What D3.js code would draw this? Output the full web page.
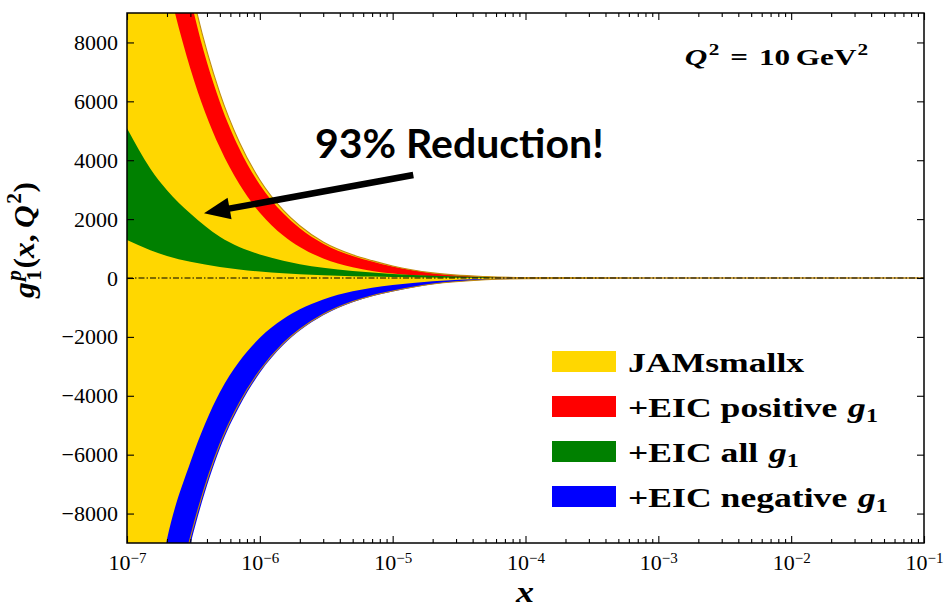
<!DOCTYPE html>
<html><head><meta charset="utf-8">
<script src="https://cdn.jsdelivr.net/npm/d3@7"></script>
<style>body{margin:0;background:#fff} text{white-space:pre}</style>
</head><body><svg id="c" width="945" height="610"></svg>
<script>
// ---- data ----
const xGrid    = [1e-7, 1.5e-7, 2e-7, 3e-7, 5e-7, 7e-7, 1e-6, 1.5e-6, 2e-6, 3e-6, 5e-6, 7e-6, 1e-5, 2e-5, 5e-5, 1e-4, 1e-3, 1e-2, 1e-1];
const jamUpper = [27200, 18800, 14500, 10000, 6280, 4620, 3330, 2305, 1775, 1225, 790, 590, 410, 175, 48, 16, 1.6, 0.4, 0];
const jamLower = [-22130, -15730, -12300, -8820, -5645, -4250, -3140, -2220, -1740, -1233, -800, -600, -444, -205, -58, -21, -2, -0.5, 0];
const posUpper = [25900, 17900, 13800, 9530, 5980, 4400, 3170, 2195, 1690, 1166, 750, 560, 390, 165, 45, 15, 1.5, 0.3, 0];
const posLower = [17800, 12900, 10140, 7110, 4430, 3190, 2220, 1445, 1054, 664, 362, 239, 152, 60, 16, 6, 0.5, 0.1, 0];
const allUpper = [5085, 3710, 2980, 2190, 1400, 1050, 800, 590, 470, 350, 240, 185, 140, 80, 30, 14, 2, 0.4, 0];
const allLower = [1291, 945, 750, 550, 373, 287, 217, 159, 127, 93, 63, 48, 37, 20, 8, 4, 0.4, 0.1, 0];
const negUpper = [-17450, -11960, -8870, -6260, -3880, -2835, -2030, -1393, -1065, -729, -452, -330, -237, -110, -35, -13, -1, -0.2, 0];
const negLower = [-22700, -16130, -12620, -9050, -5790, -4360, -3220, -2276, -1785, -1265, -820, -616, -455, -210, -60, -22, -2, -0.5, 0];

const xTicks = [1e-7, 1e-6, 1e-5, 1e-4, 1e-3, 1e-2, 1e-1];
const xTickExp = ["\u22127", "\u22126", "\u22125", "\u22124", "\u22123", "\u22122", "\u22121"];
const yTicks = [-8000, -6000, -4000, -2000, 0, 2000, 4000, 6000, 8000];
const legendNames = ["JAMsmallx", "+EIC positive", "+EIC all", "+EIC negative"];
const legendMath  = [false, true, true, true];
const bandColors  = ["#FFD700", "#FF0000", "#008000", "#0000FF"];
const annotText = "93% Reduction!";
const annotTextAt = [2.6e-6, 4076];
const arrowTail = [1.43e-5, 3500];
const arrowTip  = [3.8e-7, 2200];

// ---- layout ----
const svg = d3.select("#c");
const L = 127, R = 924, T = 13, B = 543;
const x = d3.scaleLog().domain([1e-7, 1e-1]).range([L, R]);
const y = d3.scaleLinear().domain([-9000, 9000]).range([B, T]);
const serif = "Liberation Serif, DejaVu Serif, serif";

svg.append("defs").append("clipPath").attr("id", "clip")
  .append("rect").attr("x", L).attr("y", T).attr("width", R - L).attr("height", B - T);

const plot = svg.append("g").attr("clip-path", "url(#clip)");

function band(lo, hi) {
  return xGrid.map((xv, i) => ({x: xv, lo: lo[i], hi: hi[i]}));
}
const area = d3.area().x(d => x(d.x)).y0(d => y(d.lo)).y1(d => y(d.hi)).curve(d3.curveMonotoneX);
const bands = [band(jamLower, jamUpper), band(posLower, posUpper), band(allLower, allUpper), band(negLower, negUpper)];
bands.forEach((b, i) => plot.append("path").datum(b).attr("d", area).attr("fill", bandColors[i]));

const edge = d3.line().x(d => x(d.x)).y(d => y(d.v)).curve(d3.curveMonotoneX);
[jamUpper, jamLower].forEach(arr => {
  plot.append("path").datum(xGrid.map((xv, i) => ({x: xv, v: arr[i]})))
    .attr("d", edge).attr("fill", "none").attr("stroke", "#c08a10").attr("stroke-width", 1.1);
});

// zero line
plot.append("line").attr("x1", L).attr("x2", R).attr("y1", y(0)).attr("y2", y(0))
  .attr("stroke", "#000").attr("stroke-width", 1).attr("stroke-dasharray", "6,2,1.5,2");

// ---- axes ----
const minor = [];
for (let e = -7; e < -1; e++) for (let k = 2; k <= 9; k++) minor.push(k * Math.pow(10, e));

function styleAxis(g) {
  g.select(".domain").remove();
  g.selectAll("line").attr("stroke", "#000").attr("stroke-width", 1.1);
}
const xb = svg.append("g").attr("transform", `translate(0,${B})`)
  .call(d3.axisBottom(x).tickValues(xTicks).tickSize(-7).tickPadding(11).tickFormat(() => ""));
styleAxis(xb);
xb.selectAll(".tick text").each(function(d, i) {
  const t = d3.select(this).attr("font-family", serif).attr("font-size", 22).attr("fill", "#000");
  t.append("tspan").text("10");
  t.append("tspan").attr("dy", "-0.45em").attr("font-size", 15).text(xTickExp[i]);
});
svg.append("g").attr("transform", `translate(0,${B})`)
  .call(d3.axisBottom(x).tickValues(minor).tickSize(-4).tickFormat(() => "")).call(styleAxis);
svg.append("g").attr("transform", `translate(0,${T})`)
  .call(d3.axisTop(x).tickValues(xTicks).tickSize(-7).tickFormat(() => "")).call(styleAxis);
svg.append("g").attr("transform", `translate(0,${T})`)
  .call(d3.axisTop(x).tickValues(minor).tickSize(-4).tickFormat(() => "")).call(styleAxis);

const yl = svg.append("g").attr("transform", `translate(${L},0)`)
  .call(d3.axisLeft(y).tickValues(yTicks).tickSize(-7).tickPadding(9).tickFormat(d3.format("d")));
styleAxis(yl);
yl.selectAll(".tick text").attr("font-family", serif).attr("font-size", 22).attr("fill", "#000");
svg.append("g").attr("transform", `translate(${R},0)`)
  .call(d3.axisRight(y).tickValues(yTicks).tickSize(-7).tickFormat(() => "")).call(styleAxis);

// frame
svg.append("rect").attr("x", L).attr("y", T).attr("width", R - L).attr("height", B - T)
  .attr("fill", "none").attr("stroke", "#000").attr("stroke-width", 1.5);

// ---- math text helper ----
function mathText(parent, pieces, fs, anchor, sx) {
  const outer = parent.append("g").attr("transform", `scale(${sx || 1},1)`);
  const g = outer.append("g");
  let cx = 0, lastStart = 0, lastEnd = 0;
  pieces.forEach(p => {
    const start = (p.stack ? lastStart : cx) + (p.kern || 0) * fs;
    const t = g.append("text").attr("x", start).attr("y", (p.dy || 0) * fs)
      .attr("font-family", serif).attr("font-size", fs * (p.s || 1))
      .attr("font-weight", "bold").attr("font-style", p.i ? "italic" : "normal")
      .attr("fill", "#000").text(p.t);
    const end = start + t.node().getComputedTextLength();
    if (p.stack) { cx = Math.max(lastEnd, end); }
    else { lastStart = start; lastEnd = end; cx = end; }
  });
  const shift = anchor === "middle" ? -cx / 2 : anchor === "end" ? -cx : 0;
  g.attr("transform", `translate(${shift},0)`);
  return outer;
}

// y label
const ylab = svg.append("g").attr("transform", "translate(34,240) rotate(-90)");
mathText(ylab, [
  {t: "g", i: 1},
  {t: "p", i: 1, s: 0.68, dy: -0.42, kern: 0.05},
  {t: "1", s: 0.68, dy: 0.22, stack: 1},
  {t: "(", kern: 0.05}, {t: "x", i: 1}, {t: ","}, {t: "Q", i: 1, kern: 0.2},
  {t: "2", s: 0.68, dy: -0.42, kern: 0.05}, {t: ")", kern: 0.02}
], 30, "middle", 1.05);

// x label
mathText(svg.append("g").attr("transform", "translate(525,602)"), [{t: "x", i: 1}], 30, "middle", 1.2);

// Q^2 label
mathText(svg.append("g").attr("transform", `translate(${R - 56},${T + 52})`), [
  {t: "Q", i: 1}, {t: "2", s: 0.68, dy: -0.42, kern: 0.05},
  {t: "=", kern: 0.35}, {t: "10", kern: 0.35}, {t: "GeV", kern: 0.18},
  {t: "2", s: 0.68, dy: -0.42, kern: 0.03}
], 24, "end", 1.3);

// legend
const lgX = 552, lgY0 = 351, lgStep = 45;
legendNames.forEach((name, i) => {
  const gy = lgY0 + i * lgStep;
  svg.append("rect").attr("x", lgX).attr("y", gy).attr("width", 64).attr("height", 21).attr("fill", bandColors[i]);
  const pieces = [{t: name}];
  if (legendMath[i]) pieces.push({t: "g", i: 1, kern: 0.3}, {t: "1", s: 0.68, dy: 0.2});
  mathText(svg.append("g").attr("transform", `translate(628,${gy + 21})`), pieces, 27, "start", 1.32);
});

// annotation
svg.append("text").attr("x", x(annotTextAt[0])).attr("y", y(annotTextAt[1]))
  .attr("font-family", "Lato, 'Open Sans', sans-serif").attr("font-weight", "bold")
  .attr("font-size", 41).attr("fill", "#000").text(annotText);

const tx = x(arrowTail[0]), ty = y(arrowTail[1]), hx = x(arrowTip[0]), hy = y(arrowTip[1]);
const len = Math.hypot(hx - tx, hy - ty), ux = (hx - tx) / len, uy = (hy - ty) / len;
const hl = 26, hw = 11;
const bx = hx - ux * hl, by = hy - uy * hl;
svg.append("line").attr("x1", tx).attr("y1", ty).attr("x2", bx + ux * 2).attr("y2", by + uy * 2)
  .attr("stroke", "#000").attr("stroke-width", 6.5);
svg.append("path").attr("d", `M${hx},${hy}L${bx - uy * hw},${by + ux * hw}L${bx + uy * hw},${by - ux * hw}Z`)
  .attr("fill", "#000");
</script></body></html>
